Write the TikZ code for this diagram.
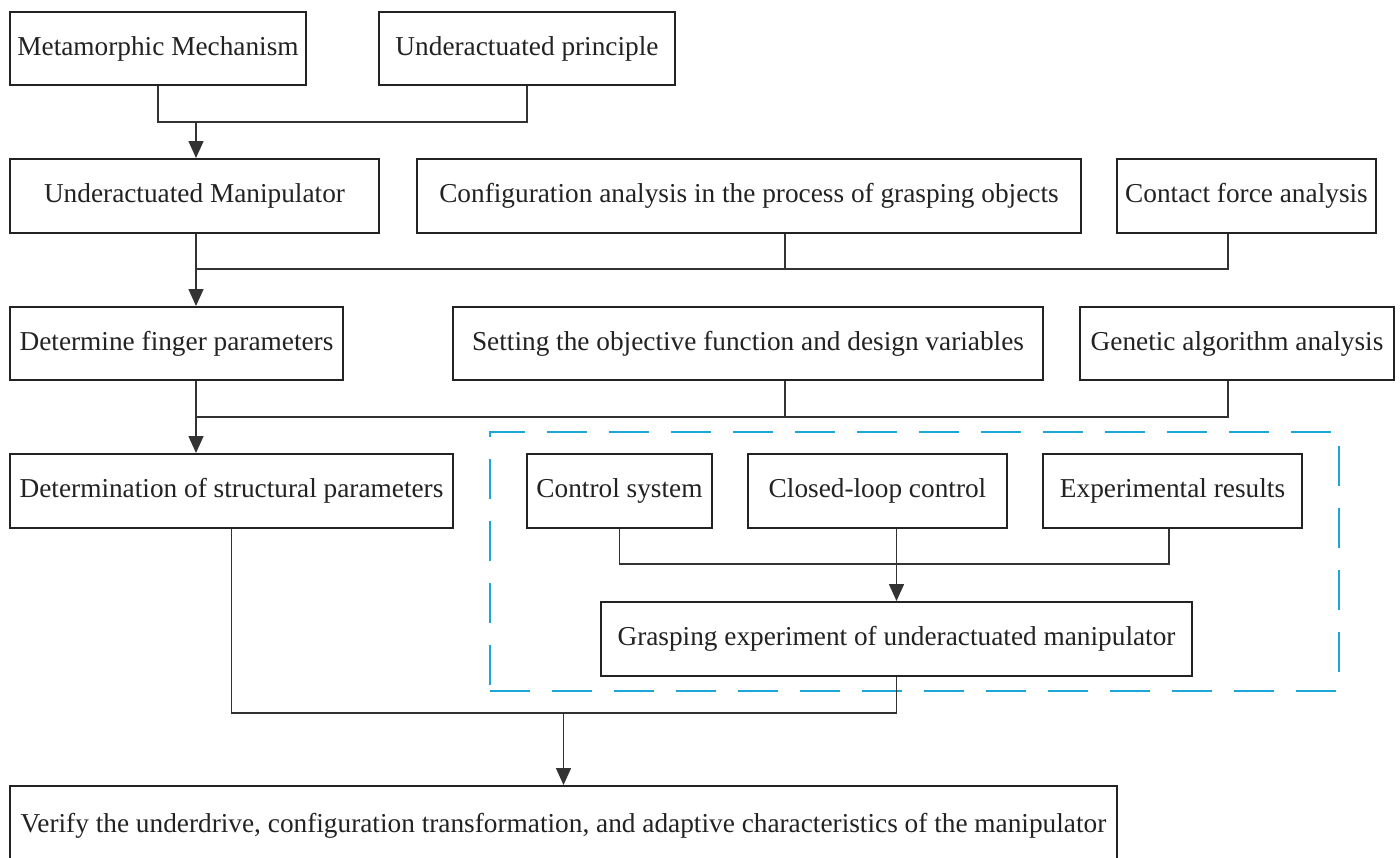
\documentclass[tikz,border=0pt]{standalone}
\usepackage{fontspec}
\setmainfont{Liberation Serif}
\usetikzlibrary{arrows.meta}
\definecolor{ink}{HTML}{222222}
\definecolor{wire}{HTML}{333333}
\definecolor{dashblue}{HTML}{1BA8D8}
\begin{document}
\begin{tikzpicture}[x=1pt,y=-1pt,
  box/.style={draw=ink,line width=2pt,fill=white,inner sep=0pt,anchor=center,
    font=\fontsize{27.3}{32}\selectfont,text=ink},
  conn/.style={draw=wire,line width=1.5pt},
  arr/.style={conn,-{Triangle[width=15pt,length=17pt]}},
  dashbox/.style={draw=dashblue,line width=2pt,dash pattern=on 40pt off 22pt,inner sep=0pt}]
\fill[white] (0,0) rectangle (1400,857);
\useasboundingbox (0,0) rectangle (1400,857);
\begin{scope}
\clip (0,0) rectangle (1400,857);
% dashed group
\node[dashbox,minimum width=849pt,minimum height=259pt] (grp) at (914.5,561.5) {};
% row 1
\node[box,minimum width=296pt,minimum height=73pt] (meta) at (158,48.5) {Metamorphic Mechanism};
\node[box,minimum width=296pt,minimum height=73pt] (prin) at (527,48.5) {Underactuated principle};
% row 2
\node[box,minimum width=369pt,minimum height=74pt] (um) at (194.5,196) {Underactuated Manipulator};
\node[box,minimum width=664pt,minimum height=74pt] (cfg) at (749,196) {Configuration analysis in the process of grasping objects};
\node[box,minimum width=259pt,minimum height=74pt] (cfa) at (1246.5,196) {Contact force analysis};
% row 3
\node[box,minimum width=333pt,minimum height=73pt] (dfp) at (176.5,343.5) {Determine finger parameters};
\node[box,minimum width=590pt,minimum height=73pt] (set) at (748,343.5) {Setting the objective function and design variables};
\node[box,minimum width=314pt,minimum height=73pt] (gen) at (1237,343.5) {Genetic algorithm analysis};
% row 4
\node[box,minimum width=443pt,minimum height=74pt] (dsp) at (231.5,491) {Determination of structural parameters};
\node[box,minimum width=185pt,minimum height=74pt] (ctl) at (619.5,491) {Control system};
\node[box,minimum width=259pt,minimum height=74pt] (clc) at (877.5,491) {Closed-loop control};
\node[box,minimum width=259pt,minimum height=74pt] (exp) at (1172.5,491) {Experimental results};
% row 5
\node[box,minimum width=591pt,minimum height=74pt] (grasp) at (896.5,639) {Grasping experiment of underactuated manipulator};
% bottom
\node[box,minimum width=1107pt,minimum height=80pt] (ver) at (563.5,826) {Verify the underdrive, configuration transformation, and adaptive characteristics of the manipulator};
% junctions
\coordinate (j1) at (196,122);
\coordinate (j2) at (196,269);
\coordinate (j3) at (196,417);
\coordinate (j4) at (896.5,564);
\coordinate (j5) at (563.5,713);
% connectors
\draw[conn] (meta.south) |- (j1);
\draw[conn] (prin.south) |- (j1);
\draw[arr] (j1) -- (um.north -| j1);
\draw[conn] (um.south -| j2) -- (j2);
\draw[conn] ([xshift=36pt]cfg.south) |- (j2);
\draw[conn] ([xshift=-18.5pt]cfa.south) |- (j2);
\draw[arr] (j2) -- (dfp.north -| j2);
\draw[conn] (dfp.south -| j3) -- (j3);
\draw[conn] ([xshift=37pt]set.south) |- (j3);
\draw[conn] ([xshift=-9pt]gen.south) |- (j3);
\draw[arr] (j3) -- (dsp.north -| j3);
\draw[conn] (ctl.south) |- (j4);
\draw[conn] ([xshift=-3.5pt]exp.south) |- (j4);
\draw[conn] (clc.south -| j4) -- (j4);
\draw[arr] (j4) -- (grasp.north);
\draw[conn] (dsp.south) |- (j5);
\draw[conn] (grasp.south) |- (j5);
\draw[arr] (j5) -- (ver.north);
\end{scope}
\end{tikzpicture}
\end{document}
